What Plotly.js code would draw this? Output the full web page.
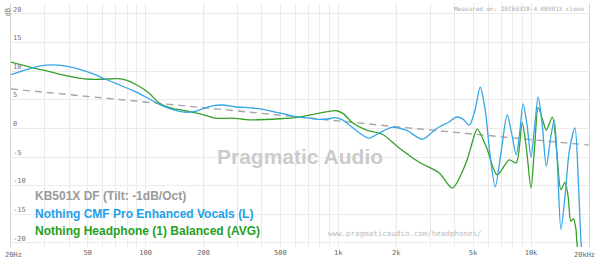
<!DOCTYPE html>
<html><head><meta charset="utf-8">
<script src="https://cdn.plot.ly/plotly-3.0.1.min.js"></script>
<style>html,body{margin:0;padding:0;background:#fff}#chart{width:600px;height:260px}</style>
</head><body><div id="chart"></div>
<script>
// Target (DF with -1 dB/oct tilt)
const targetFreq = [20, 63, 200, 630, 2000, 6300, 20000];
const targetDb   = [6.9, 5.3, 3.6, 2.0, 0.3, -1.3, -2.9];

// Nothing CMF Pro Enhanced Vocals (L)
const cmfFreq = [20,24,28,33,40,50,60,72,86,100,115,130,150,165,180,200,225,250,290,350,400,480,560,630,700,800,900,950,1050,1140,1290,1440,1630,1900,2250,2730,3080,3350,3700,4100,4450,4780,5100,5450,5800,6100,6520,7000,7520,7950,8380,8750,9100,9550,10000,10450,10900,11450,12000,12600,13200,13700,14300,15000,15800,16900,17600,18200,19000];
const cmfDb   = [9.4,10.3,10.9,11.1,10.8,9.9,8.8,7.7,6.6,5.5,4.4,3.6,3.0,2.8,3.0,3.5,4.0,4.1,3.8,3.6,3.4,2.8,2.3,2.0,1.8,1.6,1.7,1.9,1.5,0.6,-0.8,-1.7,-0.8,0.2,-0.3,-1.9,-0.6,0.3,1.0,2.0,1.6,0.6,3.0,7.2,3.0,-4.0,-10.2,-4.0,2.4,-1.0,-4.6,-0.5,4.3,0.5,-5.0,0.5,5.5,0.5,-6.6,-2.0,1.5,-6.0,-17.6,-12.0,-4.0,0.1,-9.0,-20,-26];

// Nothing Headphone (1) Balanced (AVG)
const nhFreq = [20,26,32,39,45,51,60,71,80,90,104,118,135,160,190,230,282,347,496,625,798,980,1060,1185,1400,1690,2070,2630,3350,3900,4600,5000,5260,5860,6670,7700,8380,9000,9500,10000,10450,10900,11500,12000,12900,13600,14300,15000,15600,16100,16600,17100,17300,18000];
const nhDb   = [11.6,10.6,9.9,9.2,8.8,8.6,8.6,8.7,8.4,7.6,6.2,4.4,3.6,3.1,2.6,1.8,1.8,1.5,1.7,2.0,2.7,3.1,2.6,1.0,-0.3,-1.0,-3.4,-5.9,-7.8,-10.4,-6.0,-2.0,-0.1,-3.2,-8.1,-5.5,-6.0,1.0,-4.0,-10.4,-3.0,3.7,1.5,-0.3,2.0,-4.0,-10.7,-9.4,-12.0,-16.2,-15.8,-17.5,-19.8,-25];

const gridFreqs = [20,30,40,50,60,70,80,90,100,200,300,400,500,600,700,800,900,1000,2000,3000,4000,5000,6000,7000,8000,9000,10000,20000];
const gridLabels = {50:'50',100:'100',200:'200',500:'500',1000:'1k',2000:'2k',5000:'5k',10000:'10k'};
const edgeLabels = ['20Hz', '20kHz'];
const yTicks = [-20,-15,-10,-5,0,5,10,15,20];

const traces = [
  {x: targetFreq, y: targetDb, mode:'lines', line:{color:'#a6a6a6', width:1.4, dash:'7px,5px'}, hoverinfo:'skip'},
  {x: nhFreq, y: nhDb, mode:'lines', line:{color:'#35a02a', width:1.3, shape:'spline', smoothing:0.8}, hoverinfo:'skip'},
  {x: cmfFreq, y: cmfDb, mode:'lines', line:{color:'#35a6e6', width:1.3, shape:'spline', smoothing:0.8}, hoverinfo:'skip'}
];

const mono = 'DejaVu Sans Mono, monospace';
const sans = 'Liberation Sans, Arial, sans-serif';

const layout = {
  width:600, height:260,
  margin:{l:11, r:11, t:3, b:13},
  paper_bgcolor:'#fff', plot_bgcolor:'#fff',
  showlegend:false,
  xaxis:{type:'log', range:[Math.log10(20), Math.log10(20000)], tickvals:gridFreqs,
    ticktext:gridFreqs.map(f => gridLabels[f] || ''), showgrid:true, gridcolor:'#ebebeb', gridwidth:1,
    zeroline:false, showline:false, ticks:'', tickfont:{family:mono, size:7, color:'#666'}, ticklabelstandoff:0},
  yaxis:{range:[-20.7, 21.92], tickvals:yTicks, ticktext:yTicks.map(String), showgrid:true, gridcolor:'#ebebeb',
    zeroline:false, showline:true, linecolor:'#d6d6d6', linewidth:1, mirror:true, ticks:'',
    ticklabelposition:'inside top', tickfont:{family:mono, size:7, color:'#777'}},
  shapes:[
    {type:'line', xref:'x', yref:'paper', x0:200, x1:200, y0:0, y1:1, line:{color:'#d4d4d4', width:1}, layer:'below'},
    {type:'line', xref:'x', yref:'paper', x0:2000, x1:2000, y0:0, y1:1, line:{color:'#d4d4d4', width:1}, layer:'below'}
  ],
  annotations:[
    {text:edgeLabels[0], xref:'paper', yref:'paper', x:0.005, y:-0.008, xanchor:'center', yanchor:'top', showarrow:false, font:{family:mono, size:7, color:'#666'}},
    {text:edgeLabels[1], xref:'paper', yref:'paper', x:0.992, y:-0.008, xanchor:'center', yanchor:'top', showarrow:false, font:{family:mono, size:7, color:'#666'}},
    {text:'dB', xref:'paper', yref:'paper', x:-0.016, y:0.985, showarrow:false, textangle:-90, font:{family:mono, size:7, color:'#777'}},
    {text:'Measured on: IEC60318-4 KB501X clone', xref:'paper', yref:'paper', x:0.995, y:1.0, xanchor:'right', yanchor:'top', showarrow:false, font:{family:mono, size:6, color:'#aaa'}},
    {text:'Pragmatic Audio', xref:'paper', yref:'paper', x:0.5, y:0.37, xanchor:'center', yanchor:'middle', showarrow:false, font:{family:sans, size:21, color:'#cbcbcb', weight:'bold'}},
    {text:'www.pragmaticaudio.com/headphones/', xref:'paper', yref:'paper', x:0.545, y:0.055, xanchor:'left', yanchor:'middle', showarrow:false, font:{family:mono, size:7.5, color:'#bbb'}},
    {text:'<b>KB501X DF (Tilt: -1dB/Oct)</b>', xref:'paper', yref:'paper', x:0.038, y:0.207, xanchor:'left', yanchor:'middle', showarrow:false, font:{family:sans, size:12, color:'#9a9a9a'}},
    {text:'<b>Nothing CMF Pro Enhanced Vocals (L)</b>', xref:'paper', yref:'paper', x:0.038, y:0.136, xanchor:'left', yanchor:'middle', showarrow:false, font:{family:sans, size:12, color:'#22a0ea'}},
    {text:'<b>Nothing Headphone (1) Balanced (AVG)</b>', xref:'paper', yref:'paper', x:0.038, y:0.065, xanchor:'left', yanchor:'middle', showarrow:false, font:{family:sans, size:12, color:'#26a01e'}}
  ]
};

Plotly.newPlot('chart', traces, layout, {staticPlot:true, displayModeBar:false});
</script>
</body></html>
